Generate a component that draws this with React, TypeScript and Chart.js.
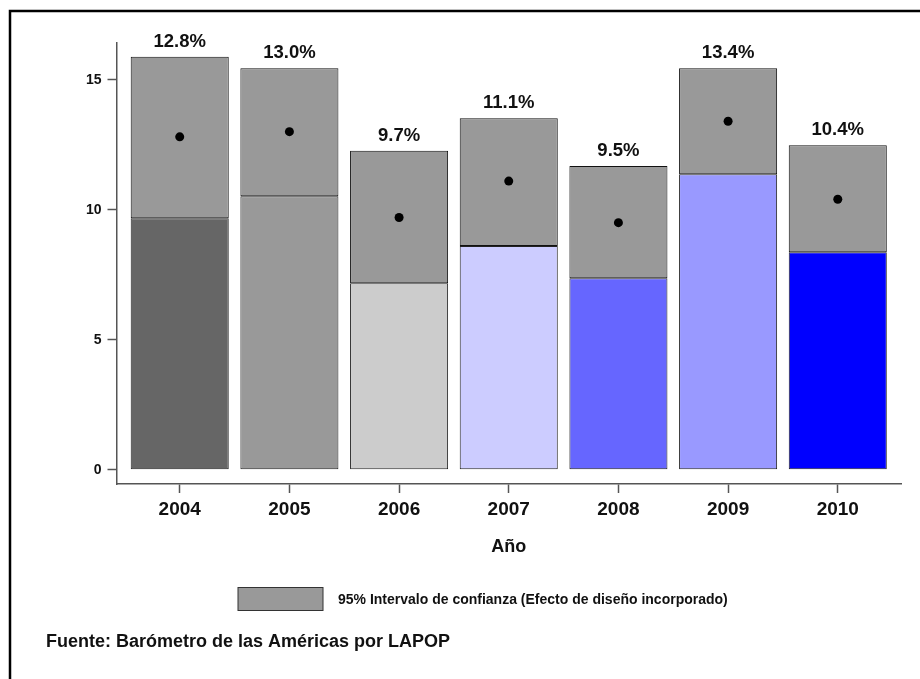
import React, { useEffect, useRef } from "react";
import { Chart, registerables } from "chart.js";

Chart.register(...registerables);

const years = ["2004", "2005", "2006", "2007", "2008", "2009", "2010"];
const means = [12.8, 13.0, 9.7, 11.1, 9.5, 13.4, 10.4];
const lowerCI = [9.67, 10.52, 7.17, 8.6, 7.36, 11.36, 8.36];
const upperCI = [15.88, 15.44, 12.27, 13.52, 11.68, 15.44, 12.48];
const barColors = ["#666666", "#999999", "#cccccc", "#ccccff", "#6666ff", "#9999ff", "#0000ff"];
const yTicks = [0, 5, 10, 15];
const legendText = "95% Intervalo de confianza (Efecto de diseño incorporado)";
const sourceText = "Fuente: Barómetro de las Américas por LAPOP";
const xTitle = "Año";

const FONT = "'Liberation Sans', Arial, sans-serif";

const overlayPlugin = {
  id: "overlay",
  afterDraw(chart: any) {
    const ctx = chart.ctx;
    const xs = chart.scales.x;
    const ys = chart.scales.y;
    ctx.save();
    // frame
    ctx.strokeStyle = "#000";
    ctx.lineWidth = 2.5;
    ctx.beginPath();
    ctx.moveTo(10, 679);
    ctx.lineTo(10, 11);
    ctx.lineTo(920, 11);
    ctx.stroke();

    // value labels
    ctx.fillStyle = "#111";
    ctx.font = `bold 18.5px ${FONT}`;
    ctx.textAlign = "center";
    ctx.textBaseline = "alphabetic";
    years.forEach((_, i) => {
      const px = xs.getPixelForValue(i);
      const py = ys.getPixelForValue(upperCI[i]);
      ctx.fillText(means[i].toFixed(1) + "%", px, py - 10);
    });

    // x title
    ctx.font = `bold 18px ${FONT}`;
    ctx.fillText(xTitle, (xs.left + xs.right) / 2, 552);

    // legend
    ctx.fillStyle = "#999999";
    ctx.fillRect(238, 587.5, 85, 23);
    ctx.strokeStyle = "#333";
    ctx.lineWidth = 1;
    ctx.strokeRect(238, 587.5, 85, 23);
    ctx.fillStyle = "#111";
    ctx.font = `bold 14px ${FONT}`;
    ctx.textAlign = "left";
    ctx.textBaseline = "middle";
    ctx.fillText(legendText, 338, 600);

    // source
    ctx.font = `bold 18px ${FONT}`;
    ctx.textBaseline = "alphabetic";
    ctx.fillText(sourceText, 46, 647);
    ctx.restore();
  },
};

export default function App() {
  const ref = useRef<HTMLCanvasElement | null>(null);
  useEffect(() => {
    if (!ref.current) return;
    const chart = new Chart(ref.current, {
      type: "bar",
      data: {
        datasets: [
          {
            type: "scatter",
            data: means.map((m, i) => ({ x: i, y: m })),
            backgroundColor: "#000",
            borderColor: "#000",
            pointRadius: 4.5,
            pointBorderWidth: 0,
            order: 0,
          } as any,
          {
            data: lowerCI.map((l, i) => ({ x: i, y: [l, upperCI[i]] })),
            backgroundColor: "#999999",
            borderColor: "#111",
            borderWidth: 1,
            borderSkipped: false,
            grouped: false,
            barPercentage: 0.894,
            categoryPercentage: 1,
            order: 1,
          } as any,
          {
            data: lowerCI.map((l, i) => ({ x: i, y: l })),
            backgroundColor: barColors,
            borderColor: "#222",
            borderWidth: 1,
            borderSkipped: false,
            grouped: false,
            barPercentage: 0.894,
            categoryPercentage: 1,
            order: 2,
          } as any,
        ],
      },
      options: {
        responsive: false,
        animation: false,
        layout: { padding: { top: 43, right: 19, left: 0, bottom: 0 } },
        plugins: { legend: { display: false }, tooltip: { enabled: false } },
        scales: {
          x: {
            type: "linear",
            offset: false,
            min: -0.5765,
            max: 6.5765,
            afterFit: (s: any) => {
              s.height = 195;
            },
            afterBuildTicks: (s: any) => {
              s.ticks = years.map((_, i) => ({ value: i }));
            },
            ticks: {
              callback: (v: any) => years[v] ?? "",
              font: { family: FONT, size: 19, weight: "bold" },
              color: "#111",
              padding: 5,
              maxRotation: 0,
              autoSkip: false,
            },
            grid: { offset: false, drawOnChartArea: false, drawTicks: true, tickLength: 9, tickColor: "#555", tickWidth: 1.5 },
            border: { display: true, color: "#555", width: 1.5 },
          },
          y: {
            type: "linear",
            min: -0.55,
            max: 16.41,
            afterFit: (s: any) => {
              s.width = 116.5;
            },
            afterBuildTicks: (s: any) => {
              s.ticks = yTicks.map((v) => ({ value: v }));
            },
            ticks: {
              font: { family: FONT, size: 14, weight: "bold" },
              color: "#111",
              padding: 6,
            },
            grid: { drawOnChartArea: false, drawTicks: true, tickLength: 9, tickColor: "#555", tickWidth: 1.5 },
            border: { display: true, color: "#555", width: 1.5 },
          },
        },
      } as any,
      plugins: [overlayPlugin],
    });
    return () => chart.destroy();
  }, []);
  return (
    <div style={{ position: "fixed", left: 0, top: 0, width: 920, height: 679, background: "#fff" }}>
      <canvas ref={ref} width={920} height={679} style={{ display: "block" }} />
    </div>
  );
}
